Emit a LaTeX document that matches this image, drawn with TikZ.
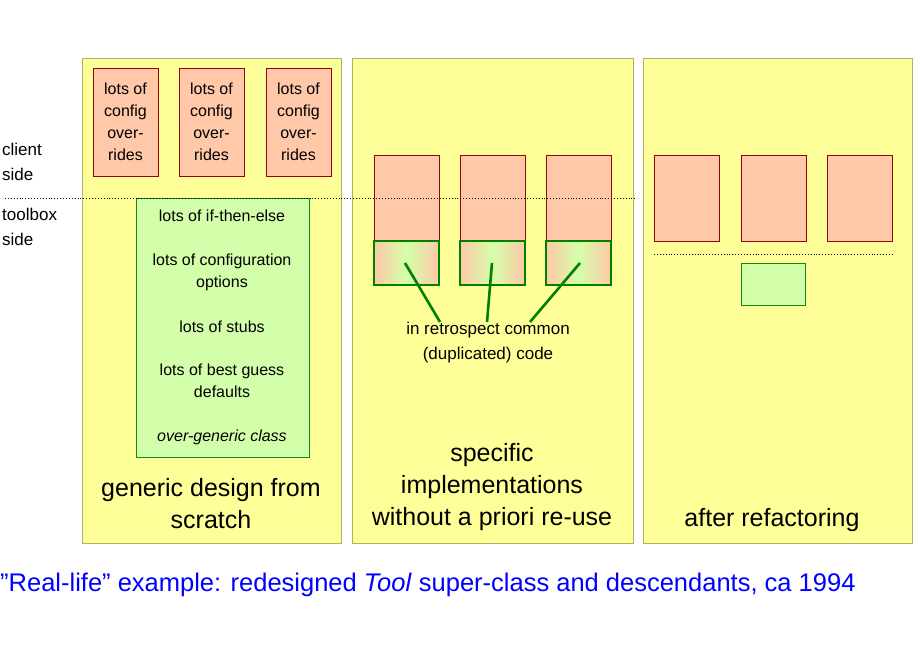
\documentclass[tikz,border=0pt]{standalone}
\usepackage{fontspec}
\setmainfont{Liberation Sans}[Ligatures=NoCommon]
\definecolor{pan}{HTML}{FFFF99}
\definecolor{panb}{HTML}{B0B060}
\definecolor{sal}{HTML}{FFC8A8}
\definecolor{salb}{HTML}{990000}
\definecolor{grn}{HTML}{D4FFAA}
\definecolor{grnb}{HTML}{118811}
\definecolor{dk}{HTML}{008000}
\begin{document}
\begin{tikzpicture}[x=1pt,y=-1pt,
 panel/.style={draw=panb,fill=pan,line width=0.7pt},
 cfg/.style={draw=salb,fill=sal,line width=0.7pt},
 gbox/.style={draw=grnb,fill=grn,line width=0.7pt},
 dup/.style={draw=dk,line width=2.6pt,left color=sal,right color=sal,middle color=grn},
 sm/.style={font=\fontsize{16}{22}\selectfont,align=center},
 big/.style={font=\fontsize{25}{32}\selectfont,align=center}]
\useasboundingbox (0,0) rectangle (920,660);
\fill[white] (0,0) rectangle (920,660);
\draw[panel] (82,58) rectangle (341,543);
\draw[panel] (352,58) rectangle (633,543);
\draw[panel] (643,58) rectangle (912,543);
\foreach \x/\n in {93/a,179/b,266/c}{
 \draw[cfg] (\x,68) rectangle ++(65,108);
 \node[sm] at (\x+32.5,122) {lots of\\config\\over-\\rides};}
\draw[gbox] (136,198) rectangle (309,457);
\node[sm] at (222,216) {lots of if-then-else};
\node[sm] at (222,272) {lots of configuration\\options};
\node[sm] at (222,327) {lots of stubs};
\node[sm] at (222,381) {lots of best guess\\defaults};
\node[sm] at (222,437) {\itshape over-generic class};
\node[big] at (211,504) {generic design from\\scratch};
\foreach \x in {374,460,546}{
 \draw[cfg] (\x,155) rectangle ++(65,130);}
\draw[dotted,line width=0.9pt] (5,198) -- (635,198);
\foreach \x/\t in {374/a,460/b,546/c}{
 \path[dup] (\x,241) rectangle ++(65,44);}
\draw[dk,line width=2.6pt] (405,263) -- (440,322);
\draw[dk,line width=2.6pt] (492,263) -- (487,322);
\draw[dk,line width=2.6pt] (580,263) -- (530,322);
\node[sm,font=\fontsize{17}{25}\selectfont] at (488,343) {in retrospect common\\(duplicated) code};
\node[big] at (492,487) {specific\\implementations\\without a priori re-use};
\foreach \x in {654,741,827}{
 \draw[cfg] (\x,155) rectangle ++(65,86);}
\draw[dotted,line width=0.9pt] (654,254) -- (892,254);
\draw[gbox] (741,263) rectangle (805,305);
\node[big] at (772,520) {after refactoring};
\node[sm,font=\fontsize{17}{25}\selectfont,align=left,anchor=west,inner sep=2pt] at (0,162) {client\\side};
\node[sm,font=\fontsize{17}{25}\selectfont,align=left,anchor=west,inner sep=2pt] at (0,227) {toolbox\\side};
\node[anchor=west,text=blue,font=\fontsize{25.5}{30}\selectfont,inner sep=0] at (0,585) {\symbol{34}Real-life\symbol{34} example: redesigned \textit{Tool} super-class and descendants, ca 1994};
\end{tikzpicture}
\end{document}
